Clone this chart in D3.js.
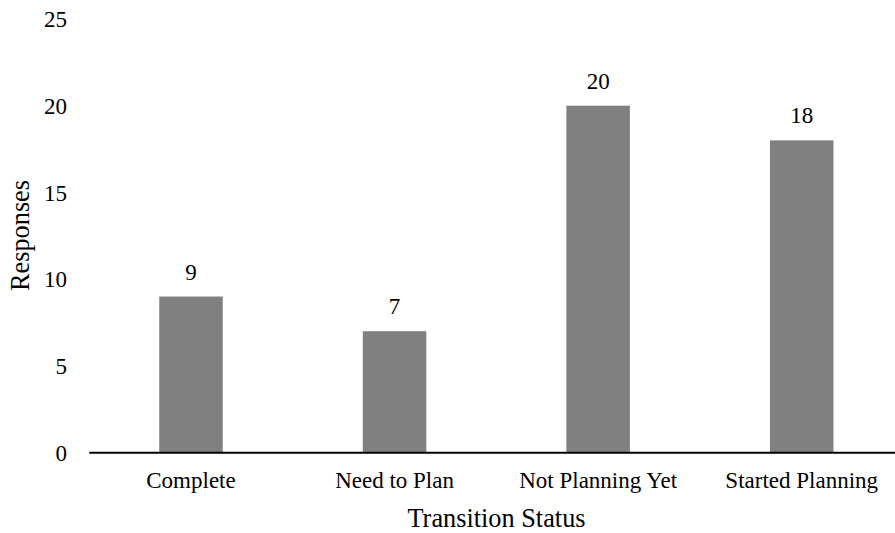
<!DOCTYPE html>
<html><head><meta charset="utf-8">
<script src="https://cdn.jsdelivr.net/npm/d3@7"></script>
</head><body style="margin:0;background:#fff"><svg id="c" width="895" height="533" style="position:absolute;left:0;top:0"></svg>
<script>
const categories = ["Complete", "Need to Plan", "Not Planning Yet", "Started Planning"];
const values = [9, 7, 20, 18];
const yTicks = [0, 5, 10, 15, 20, 25];
const FONT = "'Tinos'";

const svg = d3.select("#c");
const x = d3.scaleBand().domain(categories).range([89.2, 903.5]);
const y = d3.scaleLinear().domain([0, 25]).range([452.7, 18.9]);
const barW = x.bandwidth() * 0.312;
const cx = c => x(c) + x.bandwidth() / 2;

svg.selectAll("rect.bar").data(values).join("rect").attr("class", "bar")
  .attr("x", (d, i) => cx(categories[i]) - barW / 2)
  .attr("y", d => y(d)).attr("width", barW).attr("height", d => y(0) - y(d))
  .attr("fill", "#808080");

function txt(sel, size) {
  sel.style("font-family", FONT).attr("font-size", size).attr("fill", "#000");
}

svg.selectAll("text.val").data(values).join("text").attr("class", "val")
  .attr("x", (d, i) => cx(categories[i]))
  .attr("y", d => y(d) - 17).attr("text-anchor", "middle")
  .call(txt, 23).text(d => d);

// y axis (labels only)
const yAxis = d3.axisLeft(y).tickValues(yTicks).tickSize(0).tickPadding(0);
const gy = svg.append("g").attr("transform", "translate(67,0)").call(yAxis);
gy.select(".domain").remove();
gy.selectAll("text").attr("dy", null).attr("y", 7.8).call(txt, 23);

// x axis
const xAxis = d3.axisBottom(x).tickSize(0).tickPadding(0);
const gx = svg.append("g").attr("transform", `translate(0,${y(0)})`).call(xAxis);
gx.select(".domain").attr("d", `M89.2,0H895`).attr("stroke", "#000").attr("stroke-width", 2);
gx.selectAll("text").attr("dy", null).attr("y", 35.5).call(txt, 23);

svg.append("text").attr("x", 496.5).attr("y", 527).attr("text-anchor", "middle")
  .call(txt, 26.3).text("Transition Status");
svg.append("text").attr("transform", "translate(29,235.5) rotate(-90)").attr("text-anchor", "middle")
  .call(txt, 26.3).text("Responses");
</script></body></html>
